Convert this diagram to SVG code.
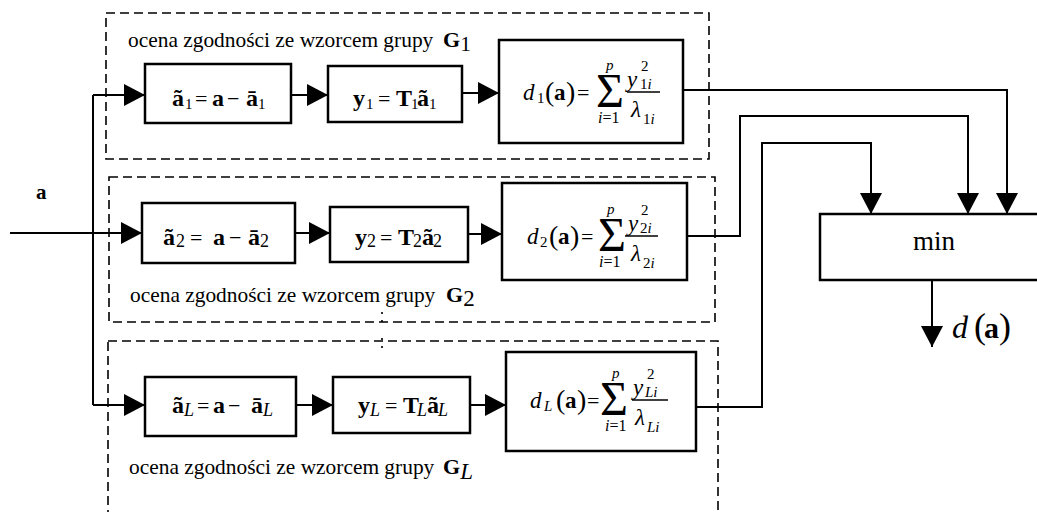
<svg xmlns="http://www.w3.org/2000/svg" width="1037" height="512" viewBox="0 0 1037 512" font-family="'Liberation Serif','Times New Roman',serif">
<style>
text{font-family:"Liberation Serif","Times New Roman",serif;fill:#000}
.box{fill:#fff;stroke:#000;stroke-width:2.5}
.dash{fill:none;stroke:#000;stroke-width:1.6;stroke-dasharray:9 5}
.wire{fill:none;stroke:#000;stroke-width:2}
.rule{stroke:#000;stroke-width:1.4}
.lbl{font-size:21.4px}
.b{font-weight:bold;font-size:24px}
.r{font-size:22px}
.s{font-size:15px}
.s2{font-size:18px}
.it{font-style:italic}
.par{font-size:28px}
.sig{font-size:48px}
.lim{font-size:16px}
.fi{font-size:23px;font-style:italic}
.fb{font-size:23px;font-weight:bold}
</style>
<defs>
<marker id="ah" viewBox="0 0 21 22" refX="21" refY="11" markerWidth="21" markerHeight="22" markerUnits="userSpaceOnUse" orient="auto">
<path d="M0,0 L21,11 L0,22 z" fill="#000"/>
</marker>
</defs>

<g id="group1">
<rect class="dash" x="106" y="13" width="603" height="146"/>
<text class="lbl" x="128" y="47">ocena zgodności ze wzorcem grupy <tspan x="443" font-weight="bold" font-size="22px">G</tspan><tspan dy="4">1</tspan></text>
</g>
<g id="group2">
<rect class="dash" x="109" y="177" width="606" height="145"/>
<text class="lbl" x="130" y="302">ocena zgodności ze wzorcem grupy <tspan x="446" font-weight="bold" font-size="22px">G</tspan><tspan dy="4" font-size="23px">2</tspan></text>
</g>
<g id="groupL">
<rect class="dash" x="108" y="341" width="610" height="200"/>
<text class="lbl" x="129" y="474">ocena zgodności ze wzorcem grupy <tspan x="443" font-weight="bold" font-size="22px">G</tspan><tspan dy="5" font-style="italic" font-size="23px">L</tspan></text>
</g>
<g id="dots">
<circle cx="382" cy="313" r="1.1"/><circle cx="382" cy="321" r="1.1"/><circle cx="382" cy="339" r="1.1"/><circle cx="382" cy="347" r="1.1"/>
</g>

<g id="connectors">
<path class="wire" d="M10,233 H142" marker-end="url(#ah)"/>
<path class="wire" d="M93,95 V405"/>
<path class="wire" d="M93,95 H145" marker-end="url(#ah)"/>
<path class="wire" d="M93,405 H145" marker-end="url(#ah)"/>
<path class="wire" d="M291,95 H328" marker-end="url(#ah)"/>
<path class="wire" d="M462,93 H499" marker-end="url(#ah)"/>
<path class="wire" d="M295,233 H330" marker-end="url(#ah)"/>
<path class="wire" d="M468,234 H502" marker-end="url(#ah)"/>
<path class="wire" d="M296,405 H333" marker-end="url(#ah)"/>
<path class="wire" d="M470,405 H506" marker-end="url(#ah)"/>
<path class="wire" d="M683,90 H1007 V214" marker-end="url(#ah)"/>
<path class="wire" d="M687,236 H740 V116 H968 V214" marker-end="url(#ah)"/>
<path class="wire" d="M696,407 H762 V143 H871 V214" marker-end="url(#ah)"/>
<path class="wire" d="M932,280 V347" marker-end="url(#ah)"/>
</g>

<g id="input-a">
<text x="36" y="199" font-weight="bold" font-size="21px">a</text>
</g>

<!-- Row 1 -->
<g id="a1">
<rect class="box" x="145" y="64" width="146" height="59"/>
<text y="106"><tspan class="b" x="172">ã</tspan><tspan class="s" x="185" y="109">1</tspan><tspan class="r" x="195" y="106">=</tspan><tspan class="b" x="212">a</tspan><tspan class="r" x="227">−</tspan><tspan class="b" x="246">ā</tspan><tspan class="s" x="258" y="109">1</tspan></text>
</g>
<g id="y1">
<rect class="box" x="328" y="66" width="134" height="56"/>
<text y="106"><tspan class="b" x="353">y</tspan><tspan class="s" x="366" y="109">1</tspan><tspan class="r" x="378" y="106">=</tspan><tspan class="b" x="396">T</tspan><tspan class="s" x="411" y="109">1</tspan><tspan class="b" x="417" y="106">ã</tspan><tspan class="s" x="429" y="109">1</tspan></text>
</g>
<g id="d1">
<rect class="box" x="499" y="40" width="184" height="103"/>
<text><tspan class="fi" x="523" y="100">d</tspan><tspan class="s" x="537" y="103">1</tspan><tspan class="par" x="545" y="101">(</tspan><tspan class="fb" x="554" y="100">a</tspan><tspan class="par" x="566" y="101">)</tspan><tspan class="r" x="577" y="100">=</tspan><tspan class="sig" x="596" y="107">Σ</tspan><tspan class="s it" x="606" y="70">p</tspan><tspan class="lim it" x="598" y="123">i</tspan><tspan class="lim">=1</tspan></text>
<line class="rule" x1="627" y1="92" x2="660" y2="92"/>
<text><tspan class="fi" x="627" y="87">y</tspan><tspan class="s" x="641" y="71">2</tspan><tspan class="s" x="640" y="89">1</tspan><tspan class="s it">i</tspan></text>
<text><tspan class="fi" x="631" y="117">λ</tspan><tspan class="s" x="643" y="124">1</tspan><tspan class="s it">i</tspan></text>
</g>

<!-- Row 2 -->
<g id="a2">
<rect class="box" x="142" y="203" width="153" height="60"/>
<text y="245"><tspan class="b" x="163">ã</tspan><tspan class="s2" x="176" y="247">2</tspan><tspan class="r" x="190" y="245">=</tspan><tspan class="b" x="213">a</tspan><tspan class="r" x="229">−</tspan><tspan class="b" x="248">ā</tspan><tspan class="s2" x="260" y="247">2</tspan></text>
</g>
<g id="y2">
<rect class="box" x="330" y="207" width="138" height="55"/>
<text y="245"><tspan class="b" x="355">y</tspan><tspan class="s2" x="367" y="247">2</tspan><tspan class="r" x="380" y="245">=</tspan><tspan class="b" x="398">T</tspan><tspan class="s2" x="413" y="247">2</tspan><tspan class="b" x="422" y="245">ã</tspan><tspan class="s2" x="433" y="247">2</tspan></text>
</g>
<g id="d2">
<rect class="box" x="502" y="183" width="185" height="97"/>
<text><tspan class="fi" x="527" y="244">d</tspan><tspan class="s" x="540" y="247">2</tspan><tspan class="par" x="549" y="245">(</tspan><tspan class="fb" x="558" y="244">a</tspan><tspan class="par" x="570" y="245">)</tspan><tspan class="r" x="581" y="244">=</tspan><tspan class="sig" x="598" y="251">Σ</tspan><tspan class="s it" x="607" y="214">p</tspan><tspan class="lim it" x="599" y="267">i</tspan><tspan class="lim">=1</tspan></text>
<line class="rule" x1="625" y1="236" x2="658" y2="236"/>
<text><tspan class="fi" x="628" y="231">y</tspan><tspan class="s" x="641" y="215">2</tspan><tspan class="s" x="640" y="233">2</tspan><tspan class="s it">i</tspan></text>
<text><tspan class="fi" x="631" y="261">λ</tspan><tspan class="s" x="643" y="268">2</tspan><tspan class="s it">i</tspan></text>
</g>

<!-- Row L -->
<g id="aL">
<rect class="box" x="145" y="377" width="151" height="59"/>
<text y="413"><tspan class="b" x="172">ã</tspan><tspan class="s2 it" x="184" y="416">L</tspan><tspan class="r" x="197" y="413">=</tspan><tspan class="b" x="213">a</tspan><tspan class="r" x="228">−</tspan><tspan class="b" x="251">ā</tspan><tspan class="s2 it" x="263" y="416">L</tspan></text>
</g>
<g id="yL">
<rect class="box" x="333" y="377" width="137" height="56"/>
<text y="413"><tspan class="b" x="358">y</tspan><tspan class="s2 it" x="370" y="416">L</tspan><tspan class="r" x="385" y="413">=</tspan><tspan class="b" x="403">T</tspan><tspan class="s2 it" x="417" y="416">L</tspan><tspan class="b" x="427" y="413">ã</tspan><tspan class="s2 it" x="438" y="416">L</tspan></text>
</g>
<g id="dL">
<rect class="box" x="506" y="352" width="190" height="99"/>
<text><tspan class="fi" x="530" y="408">d</tspan><tspan class="s it" x="544" y="411">L</tspan><tspan class="par" x="556" y="409">(</tspan><tspan class="fb" x="565" y="408">a</tspan><tspan class="par" x="577" y="409">)</tspan><tspan class="r" x="587" y="408">=</tspan><tspan class="sig" x="600" y="415">Σ</tspan><tspan class="s it" x="612" y="378">p</tspan><tspan class="lim it" x="605" y="431">i</tspan><tspan class="lim">=1</tspan></text>
<line class="rule" x1="632" y1="400" x2="668" y2="400"/>
<text><tspan class="fi" x="633" y="395">y</tspan><tspan class="s" x="647" y="379">2</tspan><tspan class="s it" x="645" y="397">Li</tspan></text>
<text><tspan class="fi" x="635" y="425">λ</tspan><tspan class="s it" x="647" y="432">Li</tspan></text>
</g>

<g id="min">
<rect class="box" x="820" y="214" width="240" height="66"/>
<text x="934" y="250" font-size="27px" text-anchor="middle">min</text>
</g>
<g id="output">
<text y="338"><tspan x="952" font-style="italic" font-size="32px">d</tspan><tspan x="974" font-size="36px">(</tspan><tspan x="984" font-weight="bold" font-size="30px">a</tspan><tspan x="999" font-size="36px">)</tspan></text>
</g>
</svg>
